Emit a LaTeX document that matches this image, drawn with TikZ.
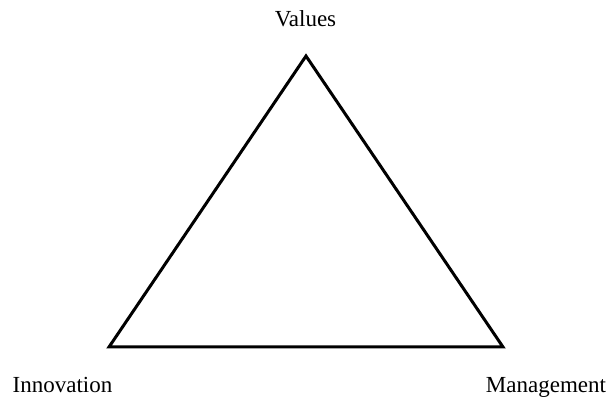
\documentclass[tikz,border=0pt]{standalone}
\usepackage{fontspec}
\setmainfont{Liberation Serif}
\begin{document}
\begin{tikzpicture}[x=1pt,y=-1pt,
		label/.style={anchor=base,inner sep=0pt,font=\fontsize{23}{27}\selectfont}]
			\useasboundingbox (0,0) rectangle (614,398);
			\coordinate (V) at (306,56); %頂点
			\coordinate (I) at (109,347);
			\coordinate (M) at (503,347);
			\draw[line width=3pt] (V)--(M)--(I)--cycle;
			\node[label] (values) at (305.5,27) {Values};
			\node[label] (innovation) at (62.5,392) {Innovation};
			\node[label] (management) at (546,392) {Management};
		\end{tikzpicture}
\end{document}
